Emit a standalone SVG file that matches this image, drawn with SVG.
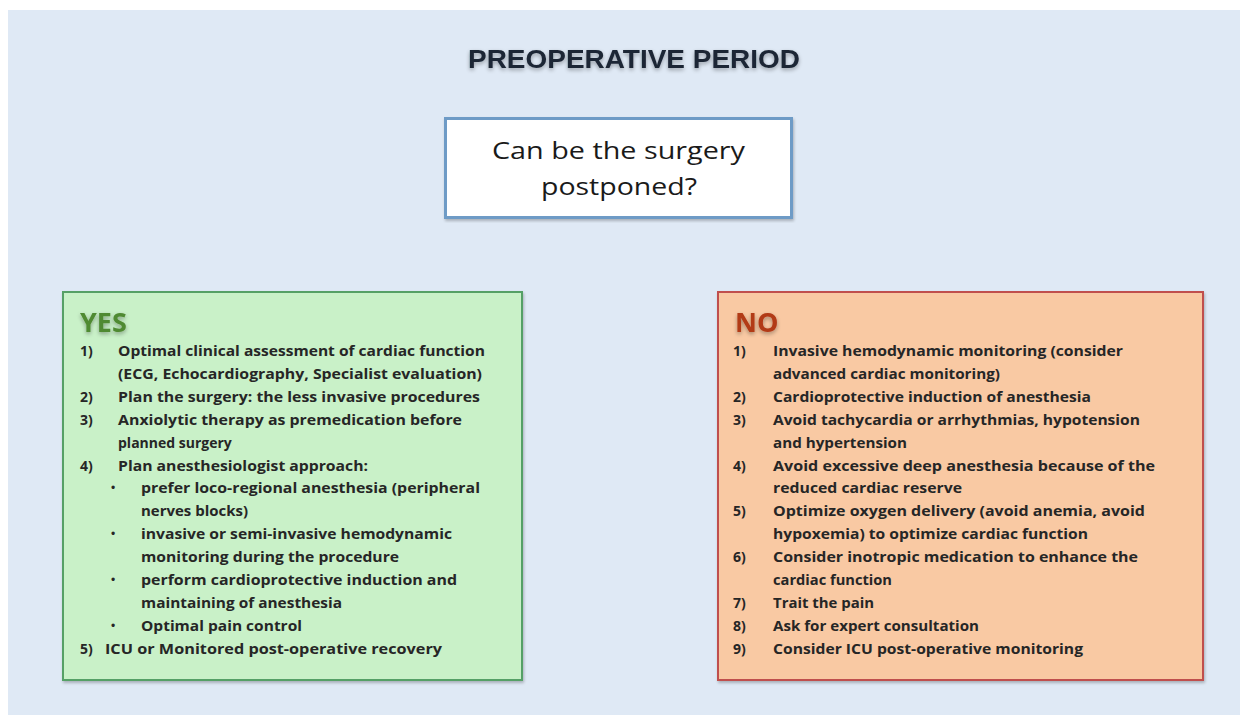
<svg xmlns="http://www.w3.org/2000/svg" width="1240" height="715" viewBox="0 0 1240 715">
<style>
.t{font-family:"Open Sans","Liberation Sans",sans-serif;font-weight:700;font-size:14px;fill:#262626}
.n{font-family:"Open Sans","Liberation Sans",sans-serif;font-weight:700;font-size:14px;fill:#262626}
.b{font-family:"Liberation Sans",sans-serif;font-size:12px;fill:#262626}
.q{font-family:"Open Sans","Liberation Sans",sans-serif;font-size:24px;fill:#1a1a1a}
.h{font-family:"Open Sans","Liberation Sans",sans-serif;font-weight:700;font-size:27px}
</style>
<defs>
<filter id="glow" x="-10%" y="-50%" width="120%" height="200%">
<feGaussianBlur in="SourceAlpha" stdDeviation="2"/>
<feOffset dy="2"/>
<feComponentTransfer><feFuncA type="linear" slope="0.35"/></feComponentTransfer>
<feMerge><feMergeNode/><feMergeNode in="SourceGraphic"/></feMerge>
</filter>
<filter id="sh" x="-5%" y="-5%" width="110%" height="110%">
<feGaussianBlur in="SourceAlpha" stdDeviation="1.5"/>
<feOffset dx="1" dy="2"/>
<feComponentTransfer><feFuncA type="linear" slope="0.25"/></feComponentTransfer>
<feMerge><feMergeNode/><feMergeNode in="SourceGraphic"/></feMerge>
</filter>
</defs>
<rect x="0" y="0" width="1240" height="715" fill="#ffffff"/>
<rect x="8" y="10" width="1232" height="705" fill="#dfe9f5"/>

<g id="title">
<text x="634" y="68" text-anchor="middle" textLength="332" lengthAdjust="spacingAndGlyphs" filter="url(#glow)" style="font-family:'Liberation Sans',sans-serif;font-weight:700;font-size:26px;fill:#1c2635">PREOPERATIVE PERIOD</text>
</g>

<g id="question">
<rect x="445.5" y="118.5" width="346" height="99" fill="#ffffff" stroke="#6e9bc6" stroke-width="3" filter="url(#sh)"/>
<text class="q" x="618.5" y="159" text-anchor="middle" textLength="253" lengthAdjust="spacingAndGlyphs">Can be the surgery</text>
<text class="q" x="619" y="195" text-anchor="middle" textLength="156" lengthAdjust="spacingAndGlyphs">postponed?</text>
</g>

<g id="yes">
<rect x="63" y="292" width="459" height="388" fill="#c9f1c8" stroke="#55a066" stroke-width="2" filter="url(#sh)"/>
<text class="h" x="80" y="332" style="fill:#4f8a32" filter="url(#glow)">YES</text>
<text class="n" x="80" y="356">1)</text>
<text class="t" x="118" y="356" textLength="367" lengthAdjust="spacingAndGlyphs">Optimal clinical assessment of cardiac function</text>
<text class="t" x="118" y="378.9" textLength="364" lengthAdjust="spacingAndGlyphs">(ECG, Echocardiography, Specialist evaluation)</text>
<text class="n" x="80" y="401.8">2)</text>
<text class="t" x="118" y="401.8" textLength="362" lengthAdjust="spacingAndGlyphs">Plan the surgery: the less invasive procedures</text>
<text class="n" x="80" y="424.7">3)</text>
<text class="t" x="118" y="424.7" textLength="344" lengthAdjust="spacingAndGlyphs">Anxiolytic therapy as premedication before</text>
<text class="t" x="118" y="447.6">planned surgery</text>
<text class="n" x="80" y="470.5">4)</text>
<text class="t" x="118" y="470.5" textLength="250" lengthAdjust="spacingAndGlyphs">Plan anesthesiologist approach:</text>
<text class="b" x="113" y="492" text-anchor="middle">•</text>
<text class="t" x="141" y="493.4" textLength="339" lengthAdjust="spacingAndGlyphs">prefer loco-regional anesthesia (peripheral</text>
<text class="t" x="141" y="516.3" textLength="107" lengthAdjust="spacingAndGlyphs">nerves blocks)</text>
<text class="b" x="113" y="538" text-anchor="middle">•</text>
<text class="t" x="141" y="539.2" textLength="311" lengthAdjust="spacingAndGlyphs">invasive or semi-invasive hemodynamic</text>
<text class="t" x="141" y="562.1" textLength="258" lengthAdjust="spacingAndGlyphs">monitoring during the procedure</text>
<text class="b" x="113" y="584" text-anchor="middle">•</text>
<text class="t" x="141" y="585" textLength="316" lengthAdjust="spacingAndGlyphs">perform cardioprotective induction and</text>
<text class="t" x="141" y="607.9" textLength="201" lengthAdjust="spacingAndGlyphs">maintaining of anesthesia</text>
<text class="b" x="113" y="630" text-anchor="middle">•</text>
<text class="t" x="141" y="630.8" textLength="161" lengthAdjust="spacingAndGlyphs">Optimal pain control</text>
<text class="n" x="80" y="653.7">5)</text>
<text class="t" x="105" y="653.7" textLength="337" lengthAdjust="spacingAndGlyphs">ICU or Monitored post-operative recovery</text>
</g>

<g id="no">
<rect x="718" y="292" width="485" height="388" fill="#f9c9a3" stroke="#c0504d" stroke-width="2" filter="url(#sh)"/>
<text class="h" x="735" y="332" style="fill:#b23a18" filter="url(#glow)">NO</text>
<text class="n" x="733" y="356">1)</text>
<text class="t" x="773" y="356" textLength="350" lengthAdjust="spacingAndGlyphs">Invasive hemodynamic monitoring (consider</text>
<text class="t" x="773" y="378.9" textLength="227" lengthAdjust="spacingAndGlyphs">advanced cardiac monitoring)</text>
<text class="n" x="733" y="401.8">2)</text>
<text class="t" x="773" y="401.8" textLength="318" lengthAdjust="spacingAndGlyphs">Cardioprotective induction of anesthesia</text>
<text class="n" x="733" y="424.7">3)</text>
<text class="t" x="773" y="424.7" textLength="367" lengthAdjust="spacingAndGlyphs">Avoid tachycardia or arrhythmias, hypotension</text>
<text class="t" x="773" y="447.6" textLength="134" lengthAdjust="spacingAndGlyphs">and hypertension</text>
<text class="n" x="733" y="470.5">4)</text>
<text class="t" x="773" y="470.5" textLength="382" lengthAdjust="spacingAndGlyphs">Avoid excessive deep anesthesia because of the</text>
<text class="t" x="773" y="493.4" textLength="189" lengthAdjust="spacingAndGlyphs">reduced cardiac reserve</text>
<text class="n" x="733" y="516.3">5)</text>
<text class="t" x="773" y="516.3" textLength="372" lengthAdjust="spacingAndGlyphs">Optimize oxygen delivery (avoid anemia, avoid</text>
<text class="t" x="773" y="539.2" textLength="315" lengthAdjust="spacingAndGlyphs">hypoxemia) to optimize cardiac function</text>
<text class="n" x="733" y="562.1">6)</text>
<text class="t" x="773" y="562.1" textLength="365" lengthAdjust="spacingAndGlyphs">Consider inotropic medication to enhance the</text>
<text class="t" x="773" y="585" textLength="119" lengthAdjust="spacingAndGlyphs">cardiac function</text>
<text class="n" x="733" y="607.9">7)</text>
<text class="t" x="773" y="607.9" textLength="101" lengthAdjust="spacingAndGlyphs">Trait the pain</text>
<text class="n" x="733" y="630.8">8)</text>
<text class="t" x="773" y="630.8" textLength="206" lengthAdjust="spacingAndGlyphs">Ask for expert consultation</text>
<text class="n" x="733" y="653.7">9)</text>
<text class="t" x="773" y="653.7" textLength="310" lengthAdjust="spacingAndGlyphs">Consider ICU post-operative monitoring</text>
</g>

<g id="connectors"/>
</svg>
